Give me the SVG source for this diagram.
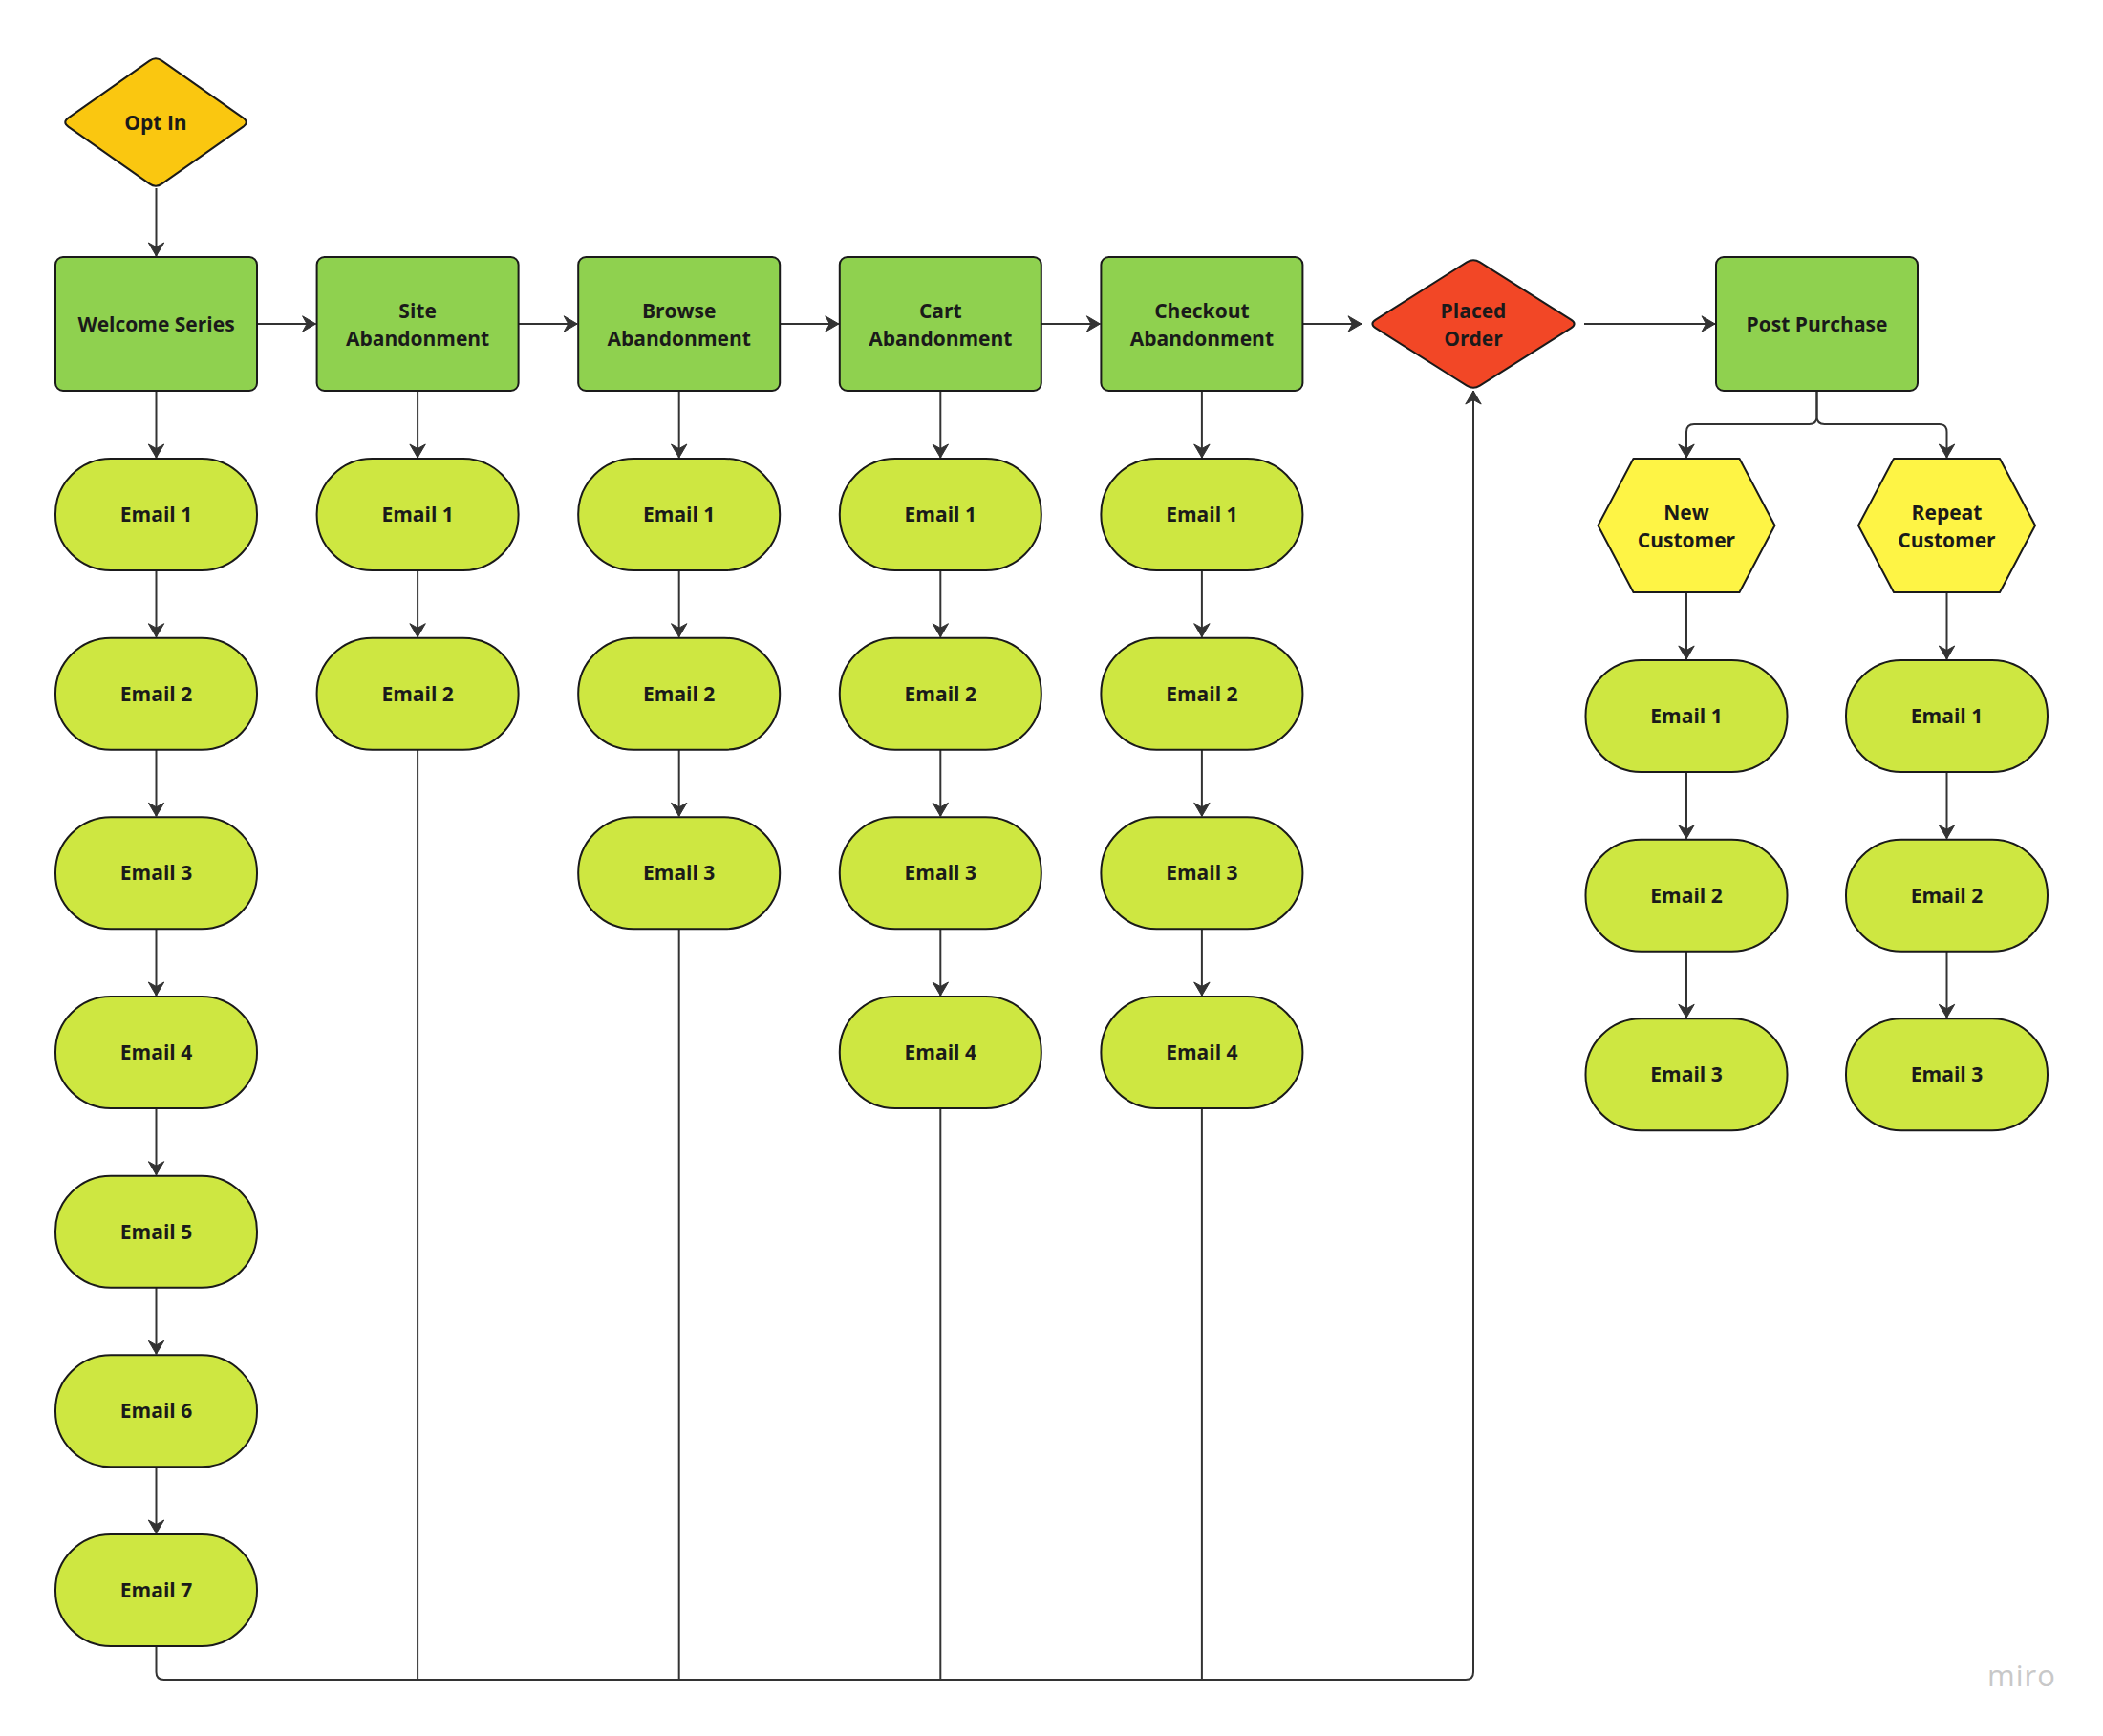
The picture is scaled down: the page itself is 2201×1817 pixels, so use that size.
<svg xmlns="http://www.w3.org/2000/svg" width="2201" height="1817" viewBox="0 0 2201 1817">
<style>
.bg{fill:#ffffff}
.rect{fill:#8fd14f;stroke:#1a1a1a;stroke-width:2}
.pill{fill:#cee741;stroke:#1a1a1a;stroke-width:2}
.hex{fill:#fef445;stroke:#1a1a1a;stroke-width:2;stroke-linejoin:round}
.opt{fill:#fac710;stroke:#1a1a1a;stroke-width:2}
.red{fill:#f24726;stroke:#1a1a1a;stroke-width:2}
.lbl{font-family:"Open Sans","Noto Sans",sans-serif;font-weight:700;font-size:21px;fill:#1a1a1a;text-anchor:middle}
.c{fill:none;stroke:#333333;stroke-width:2}
.wm{font-family:"Open Sans","Noto Sans",sans-serif;font-weight:400;font-size:31px;fill:#c8c8c8;letter-spacing:1px}
</style>
<defs>
<marker id="ah" viewBox="0 0 16 18" refX="15" refY="9" markerWidth="16" markerHeight="18" markerUnits="userSpaceOnUse" orient="auto">
<path d="M1,0.8 L15,9 L1,17.2 L5.5,9 Z" fill="#333333" stroke="#333333" stroke-width="1" stroke-linejoin="round"/>
</marker>
</defs>
<rect class="bg" x="0" y="0" width="2201" height="1817"/>

<g id="connectors">
<path class="c" d="M163.5,197 V268" marker-end="url(#ah)"/>
<path class="c" d="M269,339 H330.6" marker-end="url(#ah)"/>
<path class="c" d="M542.6,339 H604.2" marker-end="url(#ah)"/>
<path class="c" d="M816.2,339 H877.8" marker-end="url(#ah)"/>
<path class="c" d="M1089.8,339 H1151.4" marker-end="url(#ah)"/>
<path class="c" d="M1363.4,339 H1425" marker-end="url(#ah)"/>
<path class="c" d="M1658,339 H1795" marker-end="url(#ah)"/>
<path class="c" d="M163.5,409 V479" marker-end="url(#ah)"/>
<path class="c" d="M163.5,597 V666.7" marker-end="url(#ah)"/>
<path class="c" d="M163.5,784.7 V854.3" marker-end="url(#ah)"/>
<path class="c" d="M163.5,972.3 V1042" marker-end="url(#ah)"/>
<path class="c" d="M163.5,1160 V1229.7" marker-end="url(#ah)"/>
<path class="c" d="M163.5,1347.7 V1417.3" marker-end="url(#ah)"/>
<path class="c" d="M163.5,1535.3 V1605" marker-end="url(#ah)"/>
<path class="c" d="M437.1,409 V479" marker-end="url(#ah)"/>
<path class="c" d="M437.1,597 V666.7" marker-end="url(#ah)"/>
<path class="c" d="M710.7,409 V479" marker-end="url(#ah)"/>
<path class="c" d="M710.7,597 V666.7" marker-end="url(#ah)"/>
<path class="c" d="M710.7,784.7 V854.3" marker-end="url(#ah)"/>
<path class="c" d="M984.3,409 V479" marker-end="url(#ah)"/>
<path class="c" d="M984.3,597 V666.7" marker-end="url(#ah)"/>
<path class="c" d="M984.3,784.7 V854.3" marker-end="url(#ah)"/>
<path class="c" d="M984.3,972.3 V1042" marker-end="url(#ah)"/>
<path class="c" d="M1257.9,409 V479" marker-end="url(#ah)"/>
<path class="c" d="M1257.9,597 V666.7" marker-end="url(#ah)"/>
<path class="c" d="M1257.9,784.7 V854.3" marker-end="url(#ah)"/>
<path class="c" d="M1257.9,972.3 V1042" marker-end="url(#ah)"/>
<path class="c" d="M163.5,1723 V1750 Q163.5,1758 171.5,1758 H1534 Q1542,1758 1542,1750 V409" marker-end="url(#ah)"/>
<path class="c" d="M437.1,784.7 V1758"/>
<path class="c" d="M710.7,972.3 V1758"/>
<path class="c" d="M984.3,1160 V1758"/>
<path class="c" d="M1257.9,1160 V1758"/>
<path class="c" d="M1901.5,409 V436 Q1901.5,444 1893.5,444 H1773 Q1765,444 1765,452 V479" marker-end="url(#ah)"/>
<path class="c" d="M1901.5,409 V436 Q1901.5,444 1909.5,444 H2029.5 Q2037.5,444 2037.5,452 V479" marker-end="url(#ah)"/>
<path class="c" d="M1765,620 V690" marker-end="url(#ah)"/>
<path class="c" d="M1765,808 V877.7" marker-end="url(#ah)"/>
<path class="c" d="M1765,995.7 V1065.3" marker-end="url(#ah)"/>
<path class="c" d="M2037.5,620 V690" marker-end="url(#ah)"/>
<path class="c" d="M2037.5,808 V877.7" marker-end="url(#ah)"/>
<path class="c" d="M2037.5,995.7 V1065.3" marker-end="url(#ah)"/>
</g>

<g id="opt-in">
<path class="opt" d="M71.5,123.4 L156.5,63.6 Q163,59 169.5,63.6 L254.5,123.4 Q261,128 254.5,132.6 L169.5,192.4 Q163,197 156.5,192.4 L71.5,132.6 Q65,128 71.5,123.4 Z"/>
<text class="lbl" x="163" y="136">Opt In</text>
</g>

<g id="welcome-series"><rect class="rect" x="58" y="269" width="211" height="140" rx="8"/><text class="lbl" x="163.5" y="346.5">Welcome Series</text></g>
<g id="site-abandonment"><rect class="rect" x="331.6" y="269" width="211" height="140" rx="8"/><text class="lbl" x="437.1" y="333">Site</text><text class="lbl" x="437.1" y="362">Abandonment</text></g>
<g id="browse-abandonment"><rect class="rect" x="605.2" y="269" width="211" height="140" rx="8"/><text class="lbl" x="710.7" y="333">Browse</text><text class="lbl" x="710.7" y="362">Abandonment</text></g>
<g id="cart-abandonment"><rect class="rect" x="878.8" y="269" width="211" height="140" rx="8"/><text class="lbl" x="984.3" y="333">Cart</text><text class="lbl" x="984.3" y="362">Abandonment</text></g>
<g id="checkout-abandonment"><rect class="rect" x="1152.4" y="269" width="211" height="140" rx="8"/><text class="lbl" x="1257.9" y="333">Checkout</text><text class="lbl" x="1257.9" y="362">Abandonment</text></g>

<g id="placed-order">
<path class="red" d="M1439.8,334.7 L1535.2,274.3 Q1542,270 1548.8,274.3 L1644.2,334.7 Q1651,339 1644.2,343.3 L1548.8,403.7 Q1542,408 1535.2,403.7 L1439.8,343.3 Q1433,339 1439.8,334.7 Z"/>
<text class="lbl" x="1542" y="333">Placed</text><text class="lbl" x="1542" y="362">Order</text>
</g>

<g id="post-purchase"><rect class="rect" x="1796" y="269" width="211" height="140" rx="8"/><text class="lbl" x="1901.5" y="346.5">Post Purchase</text></g>

<g id="new-customer">
<polygon class="hex" points="1709.5,480 1820.5,480 1857.5,550 1820.5,620 1709.5,620 1672.5,550"/>
<text class="lbl" x="1765" y="543.5">New</text><text class="lbl" x="1765" y="572.5">Customer</text>
</g>
<g id="repeat-customer">
<polygon class="hex" points="1982,480 2093,480 2130,550 2093,620 1982,620 1945,550"/>
<text class="lbl" x="2037.5" y="543.5">Repeat</text><text class="lbl" x="2037.5" y="572.5">Customer</text>
</g>

<g id="welcome-email-1"><rect class="pill" x="58" y="480" width="211" height="117" rx="58" ry="58"/><text class="lbl" x="163.5" y="546">Email 1</text></g>
<g id="welcome-email-2"><rect class="pill" x="58" y="667.7" width="211" height="117" rx="58" ry="58"/><text class="lbl" x="163.5" y="733.7">Email 2</text></g>
<g id="welcome-email-3"><rect class="pill" x="58" y="855.3" width="211" height="117" rx="58" ry="58"/><text class="lbl" x="163.5" y="921.3">Email 3</text></g>
<g id="welcome-email-4"><rect class="pill" x="58" y="1043" width="211" height="117" rx="58" ry="58"/><text class="lbl" x="163.5" y="1109">Email 4</text></g>
<g id="welcome-email-5"><rect class="pill" x="58" y="1230.7" width="211" height="117" rx="58" ry="58"/><text class="lbl" x="163.5" y="1296.7">Email 5</text></g>
<g id="welcome-email-6"><rect class="pill" x="58" y="1418.3" width="211" height="117" rx="58" ry="58"/><text class="lbl" x="163.5" y="1484.3">Email 6</text></g>
<g id="welcome-email-7"><rect class="pill" x="58" y="1606" width="211" height="117" rx="58" ry="58"/><text class="lbl" x="163.5" y="1672">Email 7</text></g>

<g id="site-email-1"><rect class="pill" x="331.6" y="480" width="211" height="117" rx="58" ry="58"/><text class="lbl" x="437.1" y="546">Email 1</text></g>
<g id="site-email-2"><rect class="pill" x="331.6" y="667.7" width="211" height="117" rx="58" ry="58"/><text class="lbl" x="437.1" y="733.7">Email 2</text></g>

<g id="browse-email-1"><rect class="pill" x="605.2" y="480" width="211" height="117" rx="58" ry="58"/><text class="lbl" x="710.7" y="546">Email 1</text></g>
<g id="browse-email-2"><rect class="pill" x="605.2" y="667.7" width="211" height="117" rx="58" ry="58"/><text class="lbl" x="710.7" y="733.7">Email 2</text></g>
<g id="browse-email-3"><rect class="pill" x="605.2" y="855.3" width="211" height="117" rx="58" ry="58"/><text class="lbl" x="710.7" y="921.3">Email 3</text></g>

<g id="cart-email-1"><rect class="pill" x="878.8" y="480" width="211" height="117" rx="58" ry="58"/><text class="lbl" x="984.3" y="546">Email 1</text></g>
<g id="cart-email-2"><rect class="pill" x="878.8" y="667.7" width="211" height="117" rx="58" ry="58"/><text class="lbl" x="984.3" y="733.7">Email 2</text></g>
<g id="cart-email-3"><rect class="pill" x="878.8" y="855.3" width="211" height="117" rx="58" ry="58"/><text class="lbl" x="984.3" y="921.3">Email 3</text></g>
<g id="cart-email-4"><rect class="pill" x="878.8" y="1043" width="211" height="117" rx="58" ry="58"/><text class="lbl" x="984.3" y="1109">Email 4</text></g>

<g id="checkout-email-1"><rect class="pill" x="1152.4" y="480" width="211" height="117" rx="58" ry="58"/><text class="lbl" x="1257.9" y="546">Email 1</text></g>
<g id="checkout-email-2"><rect class="pill" x="1152.4" y="667.7" width="211" height="117" rx="58" ry="58"/><text class="lbl" x="1257.9" y="733.7">Email 2</text></g>
<g id="checkout-email-3"><rect class="pill" x="1152.4" y="855.3" width="211" height="117" rx="58" ry="58"/><text class="lbl" x="1257.9" y="921.3">Email 3</text></g>
<g id="checkout-email-4"><rect class="pill" x="1152.4" y="1043" width="211" height="117" rx="58" ry="58"/><text class="lbl" x="1257.9" y="1109">Email 4</text></g>

<g id="new-email-1"><rect class="pill" x="1659.5" y="691" width="211" height="117" rx="58" ry="58"/><text class="lbl" x="1765" y="757">Email 1</text></g>
<g id="new-email-2"><rect class="pill" x="1659.5" y="878.7" width="211" height="117" rx="58" ry="58"/><text class="lbl" x="1765" y="944.7">Email 2</text></g>
<g id="new-email-3"><rect class="pill" x="1659.5" y="1066.3" width="211" height="117" rx="58" ry="58"/><text class="lbl" x="1765" y="1132.3">Email 3</text></g>

<g id="repeat-email-1"><rect class="pill" x="1932" y="691" width="211" height="117" rx="58" ry="58"/><text class="lbl" x="2037.5" y="757">Email 1</text></g>
<g id="repeat-email-2"><rect class="pill" x="1932" y="878.7" width="211" height="117" rx="58" ry="58"/><text class="lbl" x="2037.5" y="944.7">Email 2</text></g>
<g id="repeat-email-3"><rect class="pill" x="1932" y="1066.3" width="211" height="117" rx="58" ry="58"/><text class="lbl" x="2037.5" y="1132.3">Email 3</text></g>

<text class="wm" x="2080" y="1765">miro</text>
</svg>
